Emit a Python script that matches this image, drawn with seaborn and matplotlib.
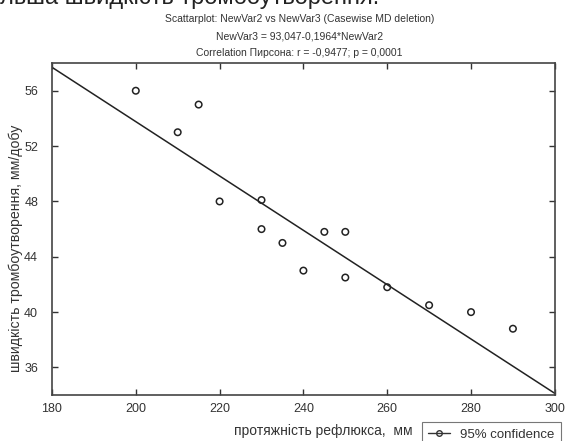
import numpy as np
import pandas as pd
import matplotlib
matplotlib.use("Agg")
import matplotlib.pyplot as plt
from matplotlib.lines import Line2D
import seaborn as sns

# data
reflux_mm = [200, 210, 215, 220, 230, 230, 235, 240, 245, 250, 250, 260, 270, 280, 290]
speed_mm_day = [56, 53, 55, 48, 48.1, 46, 45, 43, 45.8, 45.8, 42.5, 41.8, 40.5, 40, 38.8]
intercept = 93.047
slope = -0.1964
x_ticks = [180, 200, 220, 240, 260, 280, 300]
y_ticks = [36, 40, 44, 48, 52, 56]

df = pd.DataFrame({"x": reflux_mm, "y": speed_mm_day})

sns.set_style("ticks")
plt.rcParams['font.family'] = ['Liberation Sans', 'DejaVu Sans']

fig = plt.figure(figsize=(5.65, 4.41), dpi=100)
ax = fig.add_axes([0.092, 0.104, 0.890, 0.753])

#regression line from the printed equation
line_x = np.array([x_ticks[0], x_ticks[-1]])
sns.lineplot(x=line_x, y=intercept + slope * line_x, ax=ax, color="#222222", linewidth=1.1)

sns.scatterplot(data=df, x="x", y="y", ax=ax, marker="o", s=22,
                facecolor="none", edgecolor="#222222", linewidth=1.1)

ax.set_xlim(180, 300)
ax.set_ylim(34, 58)
ax.set_xticks(x_ticks)
ax.set_yticks(y_ticks)
ax.tick_params(direction="in", top=True, right=True, labeltop=False, labelright=False,
               length=4, width=1, colors="#333333", labelsize=9, pad=6)
ax.tick_params(axis="y", pad=10)
for sp in ax.spines.values():
    sp.set_color("#444444")
    sp.set_linewidth(1.2)

ax.set_xlabel("")
ax.set_ylabel("швидкість тромбоутворення, мм/добу", fontsize=10.2, color="#333333")
ax.yaxis.set_label_coords(-0.058, 0.443)

# titles
fig.text(0.0, 1.032, "льша швидкість тромбоутворення.", fontsize=17, color="#222222",
         ha="left", va="top")
fig.text(0.53, 0.958, "Scattarplot: NewVar2 vs NewVar3 (Casewise MD deletion)",
         fontsize=7.5, color="#333333", ha="center", va="center")
fig.text(0.53, 0.918, "NewVar3 = 93,047-0,1964*NewVar2",
         fontsize=7.5, color="#333333", ha="center", va="center")
fig.text(0.53, 0.880, "Correlation Пирсона: r = -0,9477; p = 0,0001",
         fontsize=7.5, color="#333333", ha="center", va="center")

fig.text(0.731, 0.022, "протяжність рефлюкса,  мм", fontsize=10, color="#333333",
         ha="right", va="center")

handle = Line2D([], [], color="#333333", marker="o", markersize=4,
                markerfacecolor="none", linewidth=1)
leg = fig.legend([handle], ["95% confidence"], loc="lower left",
                 bbox_to_anchor=(0.735, -0.03), frameon=True, fancybox=False,
                 fontsize=9.5, handlelength=1.6, borderpad=0.5)
leg.get_frame().set_edgecolor("#555555")
leg.get_frame().set_linewidth(0.8)
for t in leg.get_texts():
    t.set_color("#333333")

fig.savefig("out.png", dpi=100)
